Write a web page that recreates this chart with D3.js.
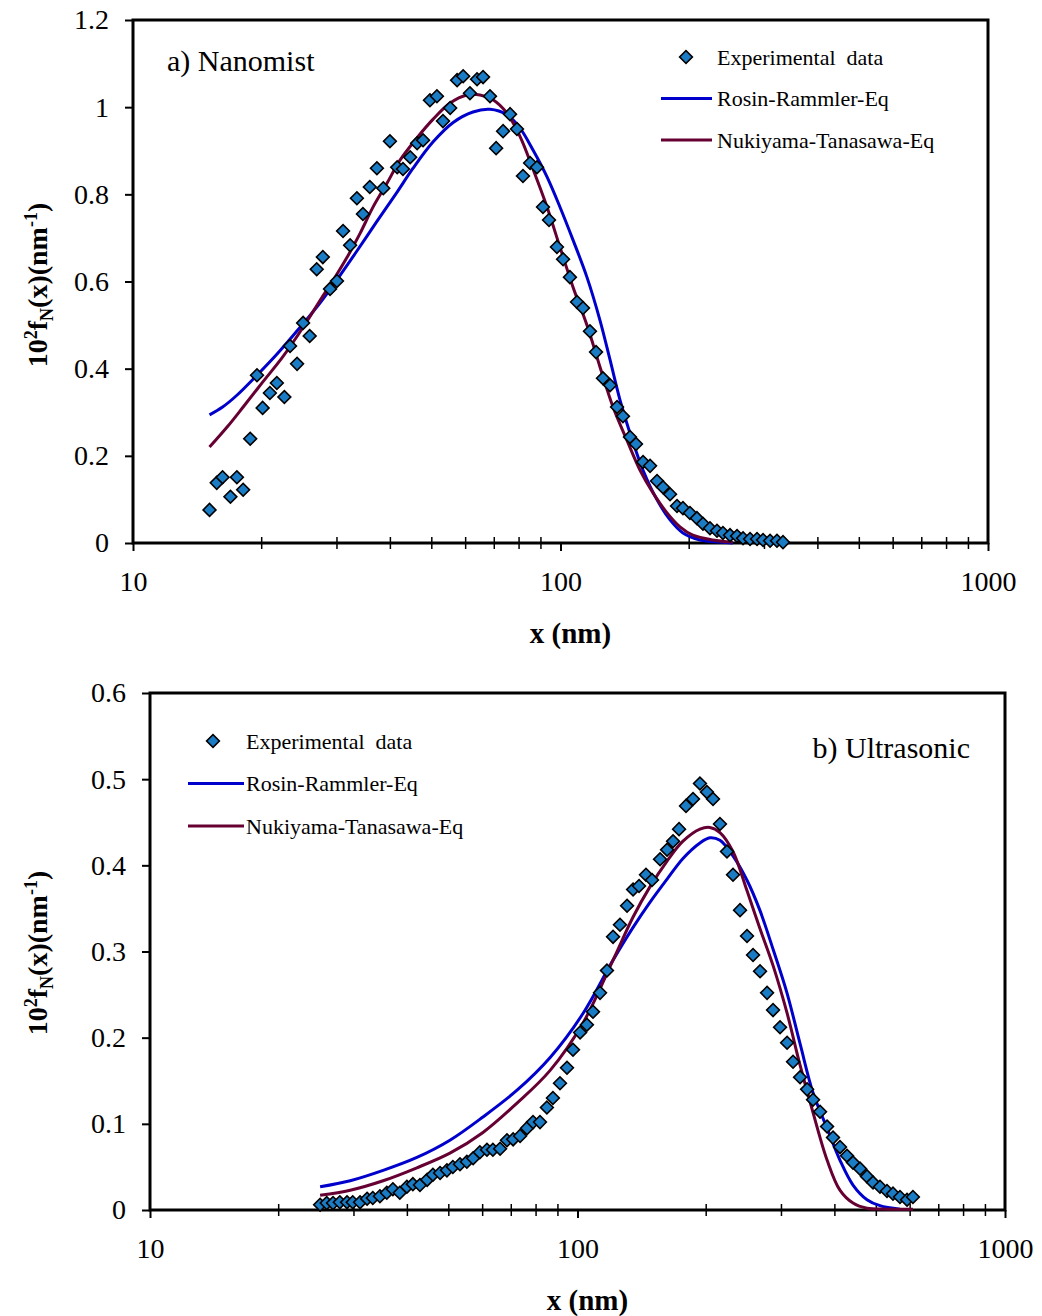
<html>
<head>
<style>
  body { margin: 0; background: #ffffff; }
  svg { display: block; }
  text { font-family: "Liberation Serif", "Times New Roman", serif; fill: #000; }
</style>
<script src="https://d3js.org/d3.v7.min.js"></script>
</head>
<body>
<svg id="chart"></svg>
<script>

// ---- a) Nanomist ----
let topExpX = [15.1,15.7,16.2,16.9,17.5,18.1,18.8,19.5,20.1,20.9,21.7,22.6,23.3,24.2,25.0,25.9,26.9,27.8,28.9,30.0,
  31.0,32.2,33.4,34.5,35.8,37.2,38.5,39.9,41.5,42.8,44.5,46.2,47.7,49.5,51.4,53.1,55.2,57.3,59.2,61.4,
  63.8,65.9,68.4,70.7,73.4,76.2,79.1,81.7,84.9,88.1,91.0,94.0,98.1,101.4,105.2,109.3,112.9,117.2,121.1,125.7,
  130.6,135.6,140.0,145.4,150.2,156.0,162.0,168.2,173.7,180.4,187.3,193.4,200.8,208.5,215.4,223.7,232.3,239.9,249.2,258.8,
  267.3,277.6,288.2,297.7,309.2,320.9,331.5]
let topExpY = [0.076,0.138,0.151,0.106,0.151,0.122,0.239,0.385,0.310,0.344,0.367,0.335,0.452,0.411,0.505,0.475,0.628,0.656,0.583,0.601,
  0.716,0.683,0.791,0.755,0.817,0.860,0.814,0.922,0.862,0.858,0.885,0.917,0.924,1.016,1.025,0.968,0.998,1.062,1.071,1.032,
  1.064,1.069,1.025,0.906,0.945,0.984,0.950,0.842,0.872,0.862,0.771,0.741,0.679,0.651,0.610,0.553,0.539,0.486,0.438,0.378,
  0.362,0.312,0.291,0.243,0.227,0.186,0.177,0.142,0.128,0.112,0.085,0.080,0.069,0.057,0.044,0.034,0.028,0.023,0.018,0.016,
  0.011,0.009,0.009,0.007,0.005,0.005,0.002]

let topRRX = [15.1,16.2,17.5,19.5,21.7,24.6,27.4,30.0,33.4,37.2,41.4,45.2,50.3,56.1,62.4,68.4,75.0,80.4,86.3,93.0,
  99.7,107,115.3,123.7,130.6,137.8,145.4,156,168.2,180.4,193.4,212,236,253]
let topRRY = [0.294,0.312,0.339,0.385,0.433,0.495,0.551,0.604,0.670,0.738,0.804,0.860,0.920,0.965,0.989,0.995,0.982,0.952,0.901,0.840,
  0.771,0.695,0.610,0.511,0.420,0.328,0.252,0.167,0.099,0.053,0.023,0.007,0.002,0]

let topNTX = [15.1,16.6,18.1,20.1,22.4,25.0,27.4,29.4,31.7,34.0,36.4,39.3,42.1,46.2,50.3,55.1,60.4,64.8,69.5,75.0,
  80.4,86.3,93.0,99.7,107,115.3,123.7,132.7,143,153.5,164.6,177.5,190.3,204,227,253]
let topNTY = [0.220,0.266,0.312,0.369,0.427,0.495,0.557,0.603,0.656,0.711,0.770,0.826,0.878,0.930,0.972,1.009,1.028,1.028,1.017,0.986,
  0.933,0.857,0.771,0.679,0.587,0.500,0.404,0.312,0.236,0.167,0.115,0.069,0.037,0.018,0.007,0.002]

// ---- b) Ultrasonic ----
let botExpX = [25.0,25.9,26.8,27.8,28.9,29.8,31.0,32.2,33.2,34.5,35.8,37.0,38.4,39.9,41.2,42.8,44.5,45.9,47.7,49.5,
  51.1,53.1,55.1,57.0,59.1,61.4,63.4,65.9,68.4,70.7,73.4,76.2,78.7,81.7,84.8,87.6,91.0,94.5,97.6,101.4,
  105.2,108.7,112.9,117.2,121.1,125.7,130.6,134.9,139.3,144.6,149.4,156.0,162.0,167.3,172.8,179.4,186.3,193.4,200.8,207.5,
  215.4,223.7,231.1,240.0,249.2,257.4,267.3,277.6,286.7,297.7,309.2,319.3,331.6,344.4,355.6,369.3,383.5,396.0,411.2,427.0,
  441.0,458.0,475.6,491.2,510.0,529.6,547.0,568.0,590.0,609.0]
let botExpY = [0.006,0.008,0.008,0.009,0.009,0.009,0.009,0.013,0.014,0.016,0.020,0.024,0.020,0.027,0.030,0.029,0.035,0.041,0.043,0.046,
  0.050,0.053,0.056,0.060,0.067,0.070,0.070,0.071,0.081,0.082,0.086,0.095,0.102,0.102,0.119,0.130,0.147,0.165,0.186,0.206,
  0.215,0.230,0.252,0.278,0.317,0.331,0.353,0.372,0.376,0.389,0.383,0.407,0.418,0.428,0.442,0.469,0.477,0.495,0.485,0.477,
  0.448,0.416,0.389,0.348,0.318,0.296,0.277,0.252,0.232,0.212,0.194,0.172,0.154,0.140,0.128,0.114,0.097,0.084,0.073,0.063,
  0.055,0.048,0.039,0.032,0.027,0.022,0.019,0.015,0.012,0.015]

let botRRX = [25.0,29.4,35.1,42.1,50.3,60.1,72.2,86.3,103,121.1,134.9,147.7,162,176.5,193.4,204,215.4,231,249,267,
  287,309,331.6,355.6,383.5,411,441,475.6,510,568]
let botRRY = [0.027,0.034,0.046,0.061,0.081,0.108,0.139,0.177,0.228,0.290,0.328,0.357,0.384,0.408,0.426,0.432,0.429,0.411,0.383,0.348,
  0.302,0.252,0.193,0.136,0.095,0.058,0.029,0.012,0.005,0.001]

let botNTX = [25.0,29.4,35.1,42.1,50.3,60.1,72.2,86.3,103,121.1,134.9,147.7,162,176.5,193.4,204,215.4,231,249,267,
  287,309,331.6,355.6,383.5,411,441,475.6,530,609]
let botNTY = [0.017,0.023,0.034,0.049,0.066,0.090,0.124,0.162,0.217,0.290,0.340,0.375,0.405,0.428,0.442,0.444,0.438,0.416,0.371,0.327,
  0.283,0.229,0.168,0.113,0.058,0.023,0.008,0.002,0.001,0.001]

let xTickValues = [10, 100, 1000]
let xTickLabels = ["10", "100", "1000"]
let topYTicks = [0, 0.2, 0.4, 0.6, 0.8, 1, 1.2]
let botYTicks = [0, 0.1, 0.2, 0.3, 0.4, 0.5, 0.6]
let legendLabels = ["Experimental  data", "Rosin-Rammler-Eq", "Nukiyama-Tanasawa-Eq"]

let rrColor = "#0000cc"
let ntColor = "#660033"
let markerFill = "#1a7cc4"

let svg = d3.select("#chart").attr("width", 1042).attr("height", 1316)

function drawPanel(cfg) {
  let g = svg.append("g")
  let x = d3.scaleLog().domain([10, 1000]).range([cfg.left, cfg.right])
  let y = d3.scaleLinear().domain([0, cfg.yMax]).range([cfg.bottom, cfg.top])

  // minor log ticks, crossing the axis
  let minors = []
  for (let d of [10, 100]) for (let k = 2; k <= 9; k++) minors.push(d * k)
  g.selectAll(".minor").data(minors).enter().append("line")
    .attr("x1", d => x(d)).attr("x2", d => x(d))
    .attr("y1", cfg.bottom - 6).attr("y2", cfg.bottom + 6)
    .attr("stroke", "#000").attr("stroke-width", 1.5)

  let xAxis = d3.axisBottom(x).tickValues(xTickValues)
    .tickFormat((d, i) => xTickLabels[i]).tickSize(8).tickPadding(20)
  let xg = g.append("g").attr("transform", `translate(0,${cfg.bottom})`).call(xAxis)
  xg.select(".domain").remove()
  xg.selectAll("line").attr("stroke", "#000").attr("stroke-width", 2)
  xg.selectAll("text").attr("font-size", 28)

  let yAxis = d3.axisLeft(y).tickValues(cfg.yTicks)
    .tickFormat(d => String(+d.toFixed(1))).tickSize(8).tickPadding(16)
  let yg = g.append("g").attr("transform", `translate(${cfg.left},0)`).call(yAxis)
  yg.select(".domain").remove()
  yg.selectAll("line").attr("stroke", "#000").attr("stroke-width", 2)
  yg.selectAll("text").attr("font-size", 28)

  // frame
  g.append("rect")
    .attr("x", cfg.left).attr("y", cfg.top)
    .attr("width", cfg.right - cfg.left).attr("height", cfg.bottom - cfg.top)
    .attr("fill", "none").attr("stroke", "#000").attr("stroke-width", 3)

  let line = d3.line()
    .x(d => x(d[0])).y(d => y(d[1]))
    .curve(d3.curveCatmullRom.alpha(0.5))

  g.append("path").datum(d3.zip(cfg.rrX, cfg.rrY))
    .attr("d", line).attr("fill", "none")
    .attr("stroke", rrColor).attr("stroke-width", 3)
  g.append("path").datum(d3.zip(cfg.ntX, cfg.ntY))
    .attr("d", line).attr("fill", "none")
    .attr("stroke", ntColor).attr("stroke-width", 3)

  let diamond = d3.symbol().type(d3.symbolSquare).size(82)
  g.selectAll(".pt").data(d3.zip(cfg.expX, cfg.expY)).enter().append("path")
    .attr("d", diamond)
    .attr("transform", d => `translate(${x(d[0])},${y(d[1])}) rotate(45)`)
    .attr("fill", markerFill).attr("stroke", "#000").attr("stroke-width", 1.6)

  // legend
  let L = cfg.legend
  g.append("path").attr("d", diamond)
    .attr("transform", `translate(${L.marker},${L.y0}) rotate(45)`)
    .attr("fill", markerFill).attr("stroke", "#000").attr("stroke-width", 1.6)
  ;[rrColor, ntColor].forEach((c, i) => {
    g.append("line")
      .attr("x1", L.lineX1).attr("x2", L.lineX2)
      .attr("y1", L.y0 + (i + 1) * L.step).attr("y2", L.y0 + (i + 1) * L.step)
      .attr("stroke", c).attr("stroke-width", 3)
  })
  legendLabels.forEach((t, i) => {
    g.append("text").attr("x", L.textX).attr("y", L.y0 + i * L.step)
      .attr("dy", "0.35em").attr("font-size", 22).attr("xml:space", "preserve")
      .style("white-space", "pre").text(t)
  })

  // panel title
  g.append("text").attr("x", cfg.titleX).attr("y", cfg.titleY)
    .attr("dy", "0.35em").attr("font-size", 30)
    .attr("text-anchor", cfg.titleAnchor).text(cfg.title)

  // axis titles
  g.append("text").attr("x", (cfg.left + cfg.right) / 2 + 10).attr("y", cfg.bottom + 100)
    .attr("text-anchor", "middle").attr("font-size", 29).attr("font-weight", "bold")
    .text("x (nm)")

  let yl = g.append("text")
    .attr("transform", `translate(47,${cfg.yLabelY}) rotate(-90)`)
    .attr("text-anchor", "middle").attr("font-size", 28).attr("font-weight", "bold")
  yl.append("tspan").text("10")
  yl.append("tspan").attr("dy", -10).attr("font-size", 18).text("2")
  yl.append("tspan").attr("dy", 10).text("f")
  yl.append("tspan").attr("dy", 6).attr("font-size", 18).text("N")
  yl.append("tspan").attr("dy", -6).text("(x)(nm")
  yl.append("tspan").attr("dy", -10).attr("font-size", 18).text("-1")
  yl.append("tspan").attr("dy", 10).text(")")
}

drawPanel({
  left: 133, right: 988, top: 20, bottom: 543, yMax: 1.2, yTicks: topYTicks,
  expX: topExpX, expY: topExpY, rrX: topRRX, rrY: topRRY, ntX: topNTX, ntY: topNTY,
  legend: {marker: 686, lineX1: 661, lineX2: 712, textX: 717, y0: 57, step: 41.5},
  title: "a) Nanomist", titleX: 167, titleY: 60, titleAnchor: "start",
  yLabelY: 285
})

drawPanel({
  left: 150, right: 1005, top: 693, bottom: 1210, yMax: 0.6, yTicks: botYTicks,
  expX: botExpX, expY: botExpY, rrX: botRRX, rrY: botRRY, ntX: botNTX, ntY: botNTY,
  legend: {marker: 213, lineX1: 188, lineX2: 244, textX: 246, y0: 741, step: 42.5},
  title: "b) Ultrasonic", titleX: 970, titleY: 747, titleAnchor: "end",
  yLabelY: 953
})

</script>
</body>
</html>
